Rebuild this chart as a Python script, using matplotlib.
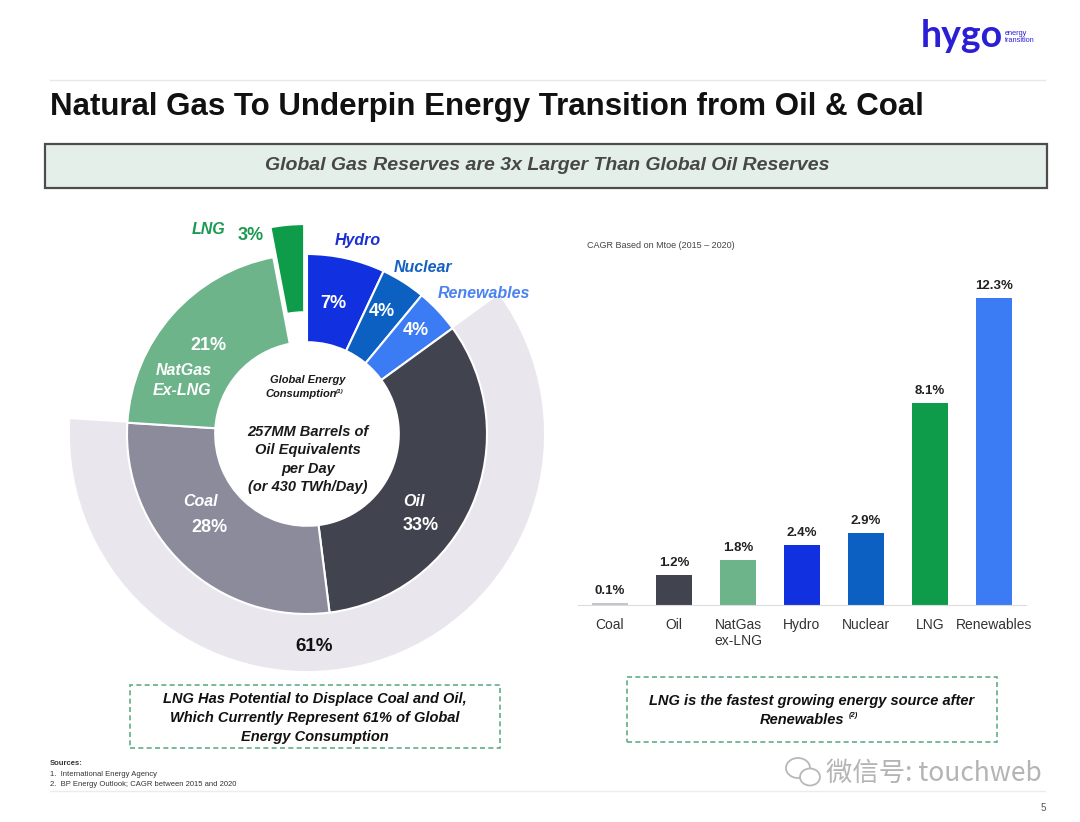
import matplotlib
matplotlib.use("Agg")
import matplotlib.pyplot as plt
from matplotlib.patches import Rectangle, Ellipse
from matplotlib.lines import Line2D

plt.rcParams['font.family'] = ['Liberation Sans', 'DejaVu Sans']

# donut data: Global energy consumption shares (%)
donut_labels = ["Hydro", "Nuclear", "Renewables", "Oil", "Coal", "NatGas ex-LNG", "LNG"]
donut_shares = [7, 4, 4, 33, 28, 21, 3]
donut_colors = ["#1131e0", "#0c60c2", "#3b7bf4", "#41434f", "#8b8b9c", "#6db48b", "#0f9c4a"]
oil_coal_share = [61, 39]

# bar data: CAGR based on Mtoe (2015 - 2020)
bar_labels = ["Coal", "Oil", "NatGas\nex-LNG", "Hydro", "Nuclear", "LNG", "Renewables"]
bar_values = [0.1, 1.2, 1.8, 2.4, 2.9, 8.1, 12.3]
bar_colors = ["#c4c4cc", "#41434f", "#6db48b", "#1131e0", "#0c60c2", "#0f9c4a", "#3b7bf4"]

W, H = 1080, 822
fig = plt.figure(figsize=(W / 100, H / 100), dpi=100)


def P(x, y):
    return x / W, 1 - y / H


def txt(x, y, s, **kw):
    kw.setdefault("ha", "center")
    kw.setdefault("va", "center")
    fig.text(*P(x, y), s, **kw)


# header
fig.add_artist(Line2D([50 / W, 1045 / W], [1 - 80 / H] * 2, color="#e8e8e8", lw=1))
txt(50, 107, "Natural Gas To Underpin Energy Transition from Oil & Coal",
    ha="left", fontsize=22.5, fontweight="bold", color="#111111")
txt(962, 36, "hygo", fontsize=27, color="#2a1fd4", family="Lato", fontweight="bold")
txt(1005, 37, "energy\ntransition", ha="left", fontsize=5.3, color="#2a1fd4",
    linespacing=0.9)

fig.add_artist(Rectangle(P(45, 188), 1002 / W, 44 / H, transform=fig.transFigure,
                         fc="#e4efe9", ec="#4d4d4d", lw=1.6))
txt(547, 166, "Global Gas Reserves are 3x Larger Than Global Oil Reserves",
    fontsize=14, fontweight="bold", style="italic", color="#474747")

# donut
cx, cy, R = 307, 434, 180
ext = 1.4
ax = fig.add_axes([(cx - ext * R) / W, (H - cy - ext * R) / H, 2 * ext * R / W, 2 * ext * R / H])
ax.pie(oil_coal_share, radius=1.317, startangle=90 - 54, counterclock=False,
       colors=["#e9e7ed", "none"], wedgeprops=dict(width=0.34, linewidth=0))
explode = [0.167 if l == "LNG" else 0 for l in donut_labels]
ax.pie(donut_shares, radius=1.0, startangle=90, counterclock=False, colors=donut_colors,
       explode=explode, wedgeprops=dict(width=0.49, edgecolor="white", linewidth=1.5))
ax.set_xlim(-ext, ext)
ax.set_ylim(-ext, ext)
ax.set_aspect("equal")
ax.axis("off")

wk = dict(fontweight="bold", color="white")
txt(333, 303, "7%", fontsize=13, **wk)
txt(382, 311, "4%", fontsize=13, **wk)
txt(416, 330, "4%", fontsize=13, **wk)
txt(208, 345, "21%", fontsize=13, **wk)
txt(184, 370, "NatGas", fontsize=11.5, style="italic", **wk)
txt(182, 390, "Ex-LNG", fontsize=11.5, style="italic", **wk)
txt(201, 501, "Coal", fontsize=11.5, style="italic", **wk)
txt(209, 528, "28%", fontsize=13, **wk)
txt(414, 501, "Oil", fontsize=11.5, style="italic", **wk)
txt(421, 526, "33%", fontsize=13, **wk)

txt(209, 230, "LNG", fontsize=11.5, fontweight="bold", style="italic", color="#1a9a50")
txt(251, 236, "3%", fontsize=13, fontweight="bold", color="#1a9a50")
txt(358, 240, "Hydro", fontsize=11.5, fontweight="bold", style="italic", color="#1a30d2")
txt(423, 267, "Nuclear", fontsize=11.5, fontweight="bold", style="italic", color="#1461c0")
txt(484, 293, "Renewables", fontsize=11.5, fontweight="bold", style="italic", color="#4a82f0")
txt(314, 646, "61%", fontsize=13.5, fontweight="bold", color="#111111")

ck = dict(fontweight="bold", style="italic", color="#1a1a1a")
txt(308, 380, "Global Energy", fontsize=8, **ck)
txt(301, 394, "Consumption", fontsize=8, **ck)
txt(336, 391, "(1)", fontsize=4.5, ha="left", **ck)
for i, line in enumerate(["257MM Barrels of", "Oil Equivalents", "per Day", "(or 430 TWh/Day)"]):
    txt(308, 432 + i * 18.3, line, fontsize=10.5, **ck)

# bar chart
step, base, top_v = 64, 605, 13.0
x0 = 610 - step / 2
bx = fig.add_axes([x0 / W, (H - base) / H, 7 * step / W, top_v * 25 / H])
xs = range(len(bar_values))
bx.bar(xs, bar_values, width=0.55, color=bar_colors)
for x, v in zip(xs, bar_values):
    bx.annotate(f"{v}%", (x, v), xytext=(0, 4), textcoords="offset points",
                ha="center", va="bottom", fontsize=9.5, fontweight="bold", color="#222222")
bx.set_xlim(-0.5, 6.5)
bx.set_ylim(0, top_v)
bx.set_xticks(list(xs))
bx.set_xticklabels(bar_labels, fontsize=10, color="#333333", linespacing=1.25)
bx.tick_params(axis="x", length=0, pad=9)
bx.set_yticks([])
for s in ["top", "right", "left"]:
    bx.spines[s].set_visible(False)
bx.spines["bottom"].set_color("#dcdcdc")
bx.patch.set_alpha(0)
txt(587, 246, "CAGR Based on Mtoe (2015 \u2013 2020)", ha="left", fontsize=6.5, color="#444444")

# callout boxes
dash = dict(transform=fig.transFigure, fill=False, ec="#5fae86", lw=1.2, ls=(0, (3, 2)))
fig.add_artist(Rectangle(P(130, 748), 370 / W, 63 / H, **dash))
fig.add_artist(Rectangle(P(627, 742), 370 / W, 65 / H, **dash))
bk = dict(fontsize=10.5, fontweight="bold", style="italic", color="#111111")
txt(315, 699, "LNG Has Potential to Displace Coal and Oil,", **bk)
txt(315, 718, "Which Currently Represent 61% of Global", **bk)
txt(315, 737, "Energy Consumption", **bk)
txt(812, 701, "LNG is the fastest growing energy source after", **bk)
txt(802, 720, "Renewables", **bk)
txt(849, 715, "(2)", fontsize=5.5, ha="left", fontweight="bold", style="italic", color="#111111")

# footer
txt(50, 763, "Sources:", ha="left", fontsize=5.5, fontweight="bold", color="#333333")
txt(50, 774, "1.  International Energy Agency", ha="left", fontsize=5.5, color="#333333")
txt(50, 784, "2.  BP Energy Outlook; CAGR between 2015 and 2020", ha="left", fontsize=5.5,
    color="#333333")
fig.add_artist(Line2D([50 / W, 1045 / W], [1 - 791 / H] * 2, color="#ececec", lw=1))
txt(1043, 808, "5", fontsize=7, color="#555555")

fig.add_artist(Ellipse(P(798, 768), 24 / W, 20 / H, transform=fig.transFigure,
                       fill=False, ec="#b8b8b8", lw=1.3))
fig.add_artist(Ellipse(P(810, 777), 20 / W, 17 / H, transform=fig.transFigure,
                       fc="white", ec="#b8b8b8", lw=1.3))
txt(826, 773, "微信号: touchweb", ha="left", fontsize=19, color="#b4b4b4",
    family=["Noto Sans CJK SC", "DejaVu Sans"])

fig.savefig("out.png", dpi=100)
